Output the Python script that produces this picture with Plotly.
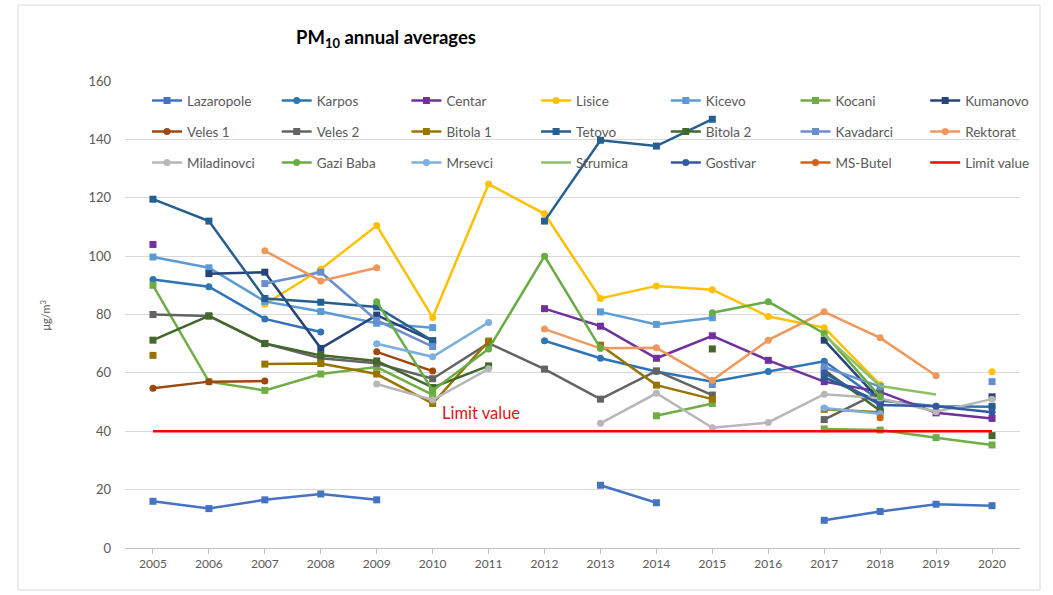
import plotly.graph_objects as go

years = list(range(2005, 2021))
N = None

lazaropole = [16, 13.5, 16.5, 18.5, 16.5, N, N, N, 21.5, 15.5, N, N, 9.5, 12.5, 15, 14.5]
karpos = [92, 89.5, 78.5, 74, N, N, N, 71, 65, 60.5, 57, 60.5, 64, 50.5, 48.6, 48.4]
centar = [104, N, N, N, N, N, N, 82, 76, 65, 72.7, 64.3, 57, 53.5, 46.3, 44.4]
lisice = [N, N, 83.5, 95.5, 110.5, 79, 124.7, 114.5, 85.5, 89.8, 88.5, 79.3, 75.5, 56, N, 60.4]
kicevo = [99.7, 96, 84.5, 81, 77, 75.5, N, N, 80.9, 76.6, 78.9, N, N, N, N, N]
kocani = [90, 57, 54, 59.6, 62, 52.5, N, N, N, 45.3, 49.5, N, 40.8, 40.4, 37.8, 35.3]
kumanovo = [N, 94, 94.5, 68.4, 79.8, 71, N, N, N, N, N, N, 71.2, 50.5, N, 51.8]
veles1 = [54.7, 57, 57.2, N, 67.2, 60.6, N, N, N, N, N, N, N, N, N, N]
veles2 = [80, 79.5, 70, 65, 63.3, 58, 70.2, 61.3, 51, 60.7, 52.4, N, 44, 53.5, N, N]
bitola1 = [66, N, 63, 63.2, 59.6, 49.5, 70.9, N, 69.5, 55.8, 51, N, 47.5, 46.5, N, N]
tetovo = [119.5, 112, 85.5, 84.2, 82.6, 71, N, 112, 139.7, 137.7, 146.9, N, 58.5, 50, N, 48.5]
bitola2 = [71.2, 79.5, 70.1, 66, 64.1, 55, 62.4, N, N, N, 68.2, N, 61, 47, N, 38.5]
kavadarci = [N, N, 90.6, 94.5, 78, 69, N, N, N, N, 56, N, 62, 55.3, N, 57]
rektorat = [N, N, 101.8, 91.5, 96, N, N, 75, 68.4, 68.6, 57.5, 71.2, 80.9, 72, 59, N]
miladinovci = [N, N, N, N, 56.2, 50.7, 61.4, N, 42.7, 53, 41.2, 43, 52.7, 51.3, 46.7, 51]
gazi_baba = [N, N, N, N, 84.4, 54, 68.2, 100, 68.4, N, 80.6, 84.4, 73.5, 51.8, N, N]
mrsevci = [N, N, N, N, 70, 65.5, 77.3, N, N, N, N, N, 48, 46, N, N]
strumica = [N, N, N, N, N, N, N, N, N, N, N, N, 73, 55.5, 52.6, N]
gostivar = [N, N, N, N, N, N, N, N, N, N, N, N, 60, 49, 48.6, 46.5]
ms_butel = [N, N, N, N, N, N, N, N, N, N, N, N, N, 44.6, N, N]
limit_value = [40] * 16

series = [
    ("Lazaropole", lazaropole, "#4472C4", "square"),
    ("Karpos", karpos, "#2F75B5", "circle"),
    ("Centar", centar, "#7030A0", "square"),
    ("Lisice", lisice, "#FFC000", "circle"),
    ("Kicevo", kicevo, "#5B9BD5", "square"),
    ("Kocani", kocani, "#70AD47", "square"),
    ("Kumanovo", kumanovo, "#264478", "square"),
    ("Veles 1", veles1, "#9E480E", "circle"),
    ("Veles 2", veles2, "#636363", "square"),
    ("Bitola 1", bitola1, "#997300", "square"),
    ("Tetovo", tetovo, "#255E91", "square"),
    ("Bitola 2", bitola2, "#43682B", "square"),
    ("Kavadarci", kavadarci, "#698ED0", "square"),
    ("Rektorat", rektorat, "#F1975A", "circle"),
    ("Miladinovci", miladinovci, "#B7B7B7", "circle"),
    ("Gazi Baba", gazi_baba, "#66AD44", "circle"),
    ("Mrsevci", mrsevci, "#7CAFDD", "circle"),
    ("Strumica", strumica, "#8CC168", None),
    ("Gostivar", gostivar, "#335AA1", "circle"),
    ("MS-Butel", ms_butel, "#D26012", "circle"),
    ("Limit value", limit_value, "#FF0000", None),
]

# layout geometry (pixels, page coordinates)
W, H = 1053, 595
L, R, T, B = 125, 10, 81, 47
PW = W - L - R
PH = H - T - B
FONT = "Lato, 'Open Sans', sans-serif"

def px_x(p):
    return (p - L) / PW

def px_y(p):
    return (H - B - p) / PH

col_x = [152 + 129.7 * k for k in range(7)]   # start of legend line
row_y = [100.7, 131.7, 162.7]                  # legend row centres

fig = go.Figure()
legend_layout = {}
for i, (name, vals, color, sym) in enumerate(series):
    lname = "legend" if i == 0 else "legend%d" % (i + 1)
    kw = dict(x=years, y=vals, name=name, legend=lname,
              line=dict(color=color, width=2.5))
    if sym:
        kw["mode"] = "lines+markers"
        kw["marker"] = dict(symbol=sym, size=7, color=color)
    else:
        kw["mode"] = "lines"
    fig.add_trace(go.Scatter(**kw))
    r, c = divmod(i, 7)
    legend_layout[lname] = dict(x=px_x(col_x[c] - 5), y=px_y(row_y[r]), xanchor="left",
                                yanchor="middle", orientation="h", bgcolor="rgba(0,0,0,0)",
                                font=dict(family=FONT, size=13.5, color="#595959"),
                                itemclick=False, itemdoubleclick=False)

fig.update_layout(**legend_layout)

fig.update_layout(
    width=W, height=H,
    margin=dict(l=L, r=R, t=T, b=B),
    paper_bgcolor="white", plot_bgcolor="white",
    showlegend=True,
    title=dict(text="<b>PM<sub>10</sub> annual averages</b>", x=386 / W, xanchor="center",
               y=1 - 38 / H, yanchor="middle",
               font=dict(family=FONT, size=18.5, color="#000000")),
    xaxis=dict(domain=[0, 895 / PW], range=[2004.5, 2020.5], tickmode="array", tickvals=years,
               ticktext=[str(y) for y in years], showgrid=False, zeroline=False,
               showline=True, linecolor="#BFBFBF", linewidth=1, ticks="outside",
               ticklen=5, tickcolor="#BFBFBF",
               tickfont=dict(family=FONT, size=12, color="#595959")),
    yaxis=dict(range=[0, 160], tickmode="linear", tick0=0, dtick=20, showgrid=True,
               gridcolor="#D9D9D9", gridwidth=1, zeroline=False, showline=False,
               ticklabelstandoff=13,
               tickfont=dict(family=FONT, size=13, color="#595959")),
    annotations=[
        dict(x=2010.86, y=46.2, xref="x", yref="y", text="Limit value", showarrow=False,
             font=dict(family=FONT, size=16.5, color="#E8101A")),
        dict(x=px_x(35), y=px_y(315), xref="paper", yref="paper", text="μg/m<sup>3</sup>",
             textangle=-90, showarrow=False, font=dict(family=FONT, size=11, color="#595959")),
    ],
    shapes=[dict(type="rect", xref="paper", yref="paper",
                 x0=px_x(18), x1=px_x(1040), y0=px_y(590), y1=px_y(5),
                 line=dict(color="#D9D9D9", width=1), layer="below")],
)

fig.write_html("out.html", config={"displayModeBar": False},
               post_script="document.body.style.margin='0px';")
